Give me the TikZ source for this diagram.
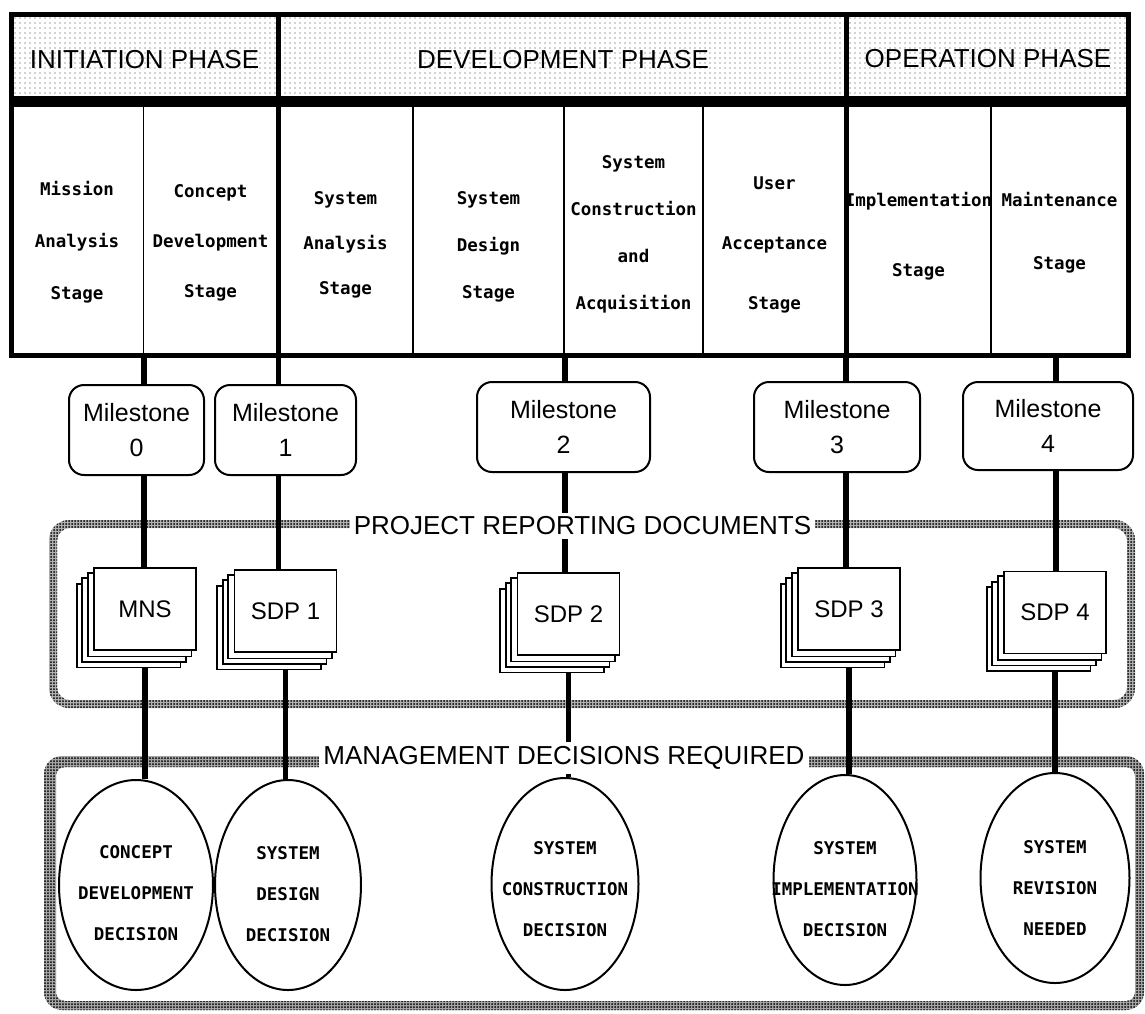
\documentclass[tikz,border=0pt]{standalone}
\usepackage{fontspec}
\setmainfont{Liberation Sans}
\newfontfamily\monofam{DejaVu Sans Mono}
\usetikzlibrary{shapes.geometric,backgrounds,patterns.meta}

\tikzset{
  framerule/.style={line width=5pt},
  headrule/.style={line width=11pt},
  cellrule/.style={line width=1.8pt},
  phasetitle/.style={inner sep=0pt, font=\fontsize{26}{30}\selectfont},
  stagetext/.style={align=center, inner sep=0pt, font=\monofam\bfseries\fontsize{17.5}{#1}\selectfont},
  milestone/.style={draw, line width=2pt, rounded corners=15pt, fill=white, align=center,
    inner sep=0pt, font=\fontsize{25}{35}\selectfont},
  link/.style={line width=5.5pt},
  docpage/.style={draw, line width=1.8pt, fill=white, minimum width=102pt, minimum height=82pt,
    inner sep=0pt, font=\fontsize{24}{28}\selectfont},
  pagebehind/.style={draw, line width=1.8pt, fill=white},
  sectiontitle/.style={fill=white, inner xsep=4pt, inner ysep=4pt, font=\fontsize{26}{30}\selectfont},
  decision/.style={ellipse, draw, line width=2pt, fill=white, inner sep=0pt},
  decisiontext/.style={align=center, inner sep=0pt, font=\monofam\bfseries\fontsize{17.5}{41}\selectfont},
  halftone/.style={pattern={Dots[distance=3pt, radius=1pt]}, pattern color=black, even odd rule},
}

\begin{document}
\begin{tikzpicture}[x=1pt, y=-1pt]
\useasboundingbox (0,0) rectangle (1145,1013);

% ---------------- phase / stage table ----------------
\fill[pattern={Dots[distance=5pt, radius=0.6pt]}, pattern color=black!75] (11.5,14) rectangle (1128,101);
\draw[framerule] (11.5,14) rectangle (1128,355);
\draw[headrule] (11.5,101) -- (1128,101);
\draw[framerule] (278.5,14) -- (278.5,355);
\draw[framerule] (846.5,14) -- (846.5,355);
\foreach \x in {143.5,413,564,703,991}
  \draw[cellrule] (\x,101) -- (\x,355);

\node[phasetitle] (pinit) at (144.5,60) {INITIATION PHASE};
\node[phasetitle] (pdev)  at (563,60)   {DEVELOPMENT PHASE};
\node[phasetitle] (pop)   at (988,59)   {OPERATION PHASE};

\node[stagetext=52] (s1) at (77,242)    {Mission\\Analysis\\Stage};
\node[stagetext=50] (s2) at (210.5,243) {Concept\\Development\\Stage};
\node[stagetext=45] (s3) at (345.5,245) {System\\Analysis\\Stage};
\node[stagetext=47] (s4) at (488.5,247) {System\\Design\\Stage};
\node[stagetext=47] (s5) at (633.5,234) {System\\Construction\\and\\Acquisition};
\node[stagetext=60] (s6) at (774.5,245) {User\\Acceptance\\Stage};
\node[stagetext=70] (s7) at (918.5,236) {Implementation\\Stage};
\node[stagetext=63] (s8) at (1059.5,233) {Maintenance\\Stage};

% connector feet on the bottom edge of the table
\coordinate (b0) at (144,355);
\coordinate (b1) at (278.5,355);
\coordinate (b2) at (565,355);
\coordinate (b3) at (846,355);
\coordinate (b4) at (1056,355);

% ---------------- milestones ----------------
\node[milestone, minimum width=135pt, minimum height=90pt] (m0) at (136.5,430) {Milestone\\0};
\node[milestone, minimum width=141pt, minimum height=90pt] (m1) at (285.5,430) {Milestone\\1};
\node[milestone, minimum width=173pt, minimum height=90pt] (m2) at (563.5,427) {Milestone\\2};
\node[milestone, minimum width=166pt, minimum height=90pt] (m3) at (837,427)   {Milestone\\3};
\node[milestone, minimum width=170pt, minimum height=88pt] (m4) at (1048,426)  {Milestone\\4};

% ---------------- reporting documents ----------------
\node[sectiontitle] (rep) at (582.5,526) {PROJECT REPORTING DOCUMENTS};
\node[docpage] (d0) at (145,609)    {MNS};
\node[docpage] (d1) at (285.5,611)  {SDP 1};
\node[docpage] (d2) at (568.5,614)  {SDP 2};
\node[docpage] (d3) at (849,609)    {SDP 3};
\node[docpage] (d4) at (1055,612.5) {SDP 4};

% ---------------- management decisions ----------------
\node[sectiontitle] (mgt) at (564,758) {MANAGEMENT DECISIONS REQUIRED};
\node[decision, minimum width=154pt, minimum height=210pt] (e0) at (136,885)  {};
\node[decision, minimum width=146pt, minimum height=210pt] (e1) at (288,885)  {};
\node[decision, minimum width=147pt, minimum height=212pt] (e2) at (565,884)  {};
\node[decision, minimum width=143pt, minimum height=210pt] (e3) at (845,880)  {};
\node[decision, minimum width=149pt, minimum height=210pt] (e4) at (1055,878) {};
\node[decisiontext] (e0t) at (e0 |- 0,893) {CONCEPT\\DEVELOPMENT\\DECISION};
\node[decisiontext] (e1t) at (e1 |- 0,894) {SYSTEM\\DESIGN\\DECISION};
\node[decisiontext] (e2t) at (e2 |- 0,889) {SYSTEM\\CONSTRUCTION\\DECISION};
\node[decisiontext] (e3t) at (e3 |- 0,889) {SYSTEM\\IMPLEMENTATION\\DECISION};
\node[decisiontext] (e4t) at (e4 |- 0,888) {SYSTEM\\REVISION\\NEEDED};

\begin{pgfonlayer}{background}
  \fill[white] (0,0) rectangle (1145,1013);
  % halftone frames round the two lower bands
  \fill[black!30, even odd rule]
    [rounded corners=20pt] (49,520) rectangle (1135,708)
    [rounded corners=13pt] (57,528) rectangle (1127,700);
  \fill[halftone]
    [rounded corners=20pt] (49,520) rectangle (1135,708)
    [rounded corners=13pt] (57,528) rectangle (1127,700);
  \fill[black!35, even odd rule]
    [rounded corners=18pt] (44,756) rectangle (1144,1010)
    [rounded corners=9pt] (56,767) rectangle (1135,1001);
  \fill[halftone]
    [rounded corners=18pt] (44,756) rectangle (1144,1010)
    [rounded corners=9pt] (56,767) rectangle (1135,1001);

  % vertical connectors: table -> milestone -> documents -> decision
  \foreach \i in {0,...,4} {
    \draw[link] (b\i) -- (b\i |- m\i.north);
    \draw[link] (b\i |- m\i.south) -- (b\i |- d\i.north);
    \draw[link] (d\i.south) -- (d\i.south |- e\i.north);
  }

  % stacked copies behind each document
  \foreach \d in {d0,d1,d2,d3,d4}
    \foreach \k in {3,2,1}
      \draw[pagebehind] ([shift={(-5.5*\k,5.5*\k)}]\d.south west)
        rectangle ([shift={(-5.5*\k,5.5*\k)}]\d.north east);
\end{pgfonlayer}
\end{tikzpicture}
\end{document}
